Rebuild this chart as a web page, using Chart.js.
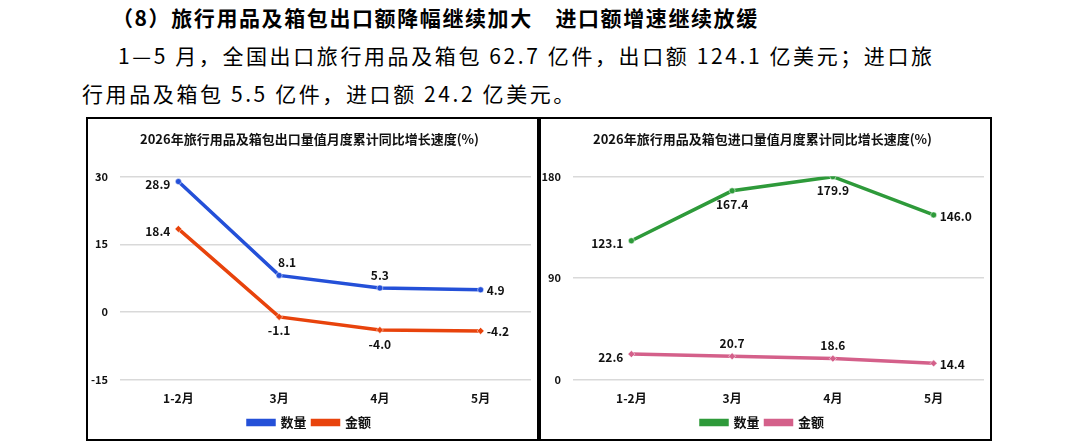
<!DOCTYPE html>
<html><head><meta charset="utf-8">
<script src="https://cdn.jsdelivr.net/npm/chart.js@4.4.0/dist/chart.umd.min.js"></script>
<style>
body{margin:0;width:1085px;height:445px;background:#fff;position:relative;overflow:hidden;font-family:"Noto Sans CJK SC",sans-serif;color:#000}
.t{position:absolute;white-space:nowrap;font-size:21px;letter-spacing:2.6px}
.box{position:absolute;top:117px;height:324px;border:2px solid #000;box-sizing:border-box}
.box canvas{position:absolute;left:0;top:0}
</style></head><body>
<div class="t" style="left:112px;top:2px;font-weight:bold;letter-spacing:1.6px">（8）旅行用品及箱包出口额降幅继续加大　进口额增速继续放缓</div>
<div class="t" style="left:118px;top:40px">1—5 月，全国出口旅行用品及箱包 62.7 亿件，出口额 124.1 亿美元；进口旅</div>
<div class="t" style="left:82px;top:78px">行用品及箱包 5.5 亿件，进口额 24.2 亿美元。</div>
<div class="box" style="left:86px;width:453px"><canvas id="c1" width="449" height="320"></canvas></div>
<div class="box" style="left:539px;width:453px"><canvas id="c2" width="449" height="320"></canvas></div>
<script>
const months = ['1-2月','3月','4月','5月'];
const exportQty = [28.9, 8.1, 5.3, 4.9];
const exportAmt = [18.4, -1.1, -4.0, -4.2];
const importQty = [123.1, 167.4, 179.9, 146.0];
const importAmt = [22.6, 20.7, 18.6, 14.4];

const FONT = '"Noto Sans CJK SC", sans-serif';

const labelPlugin = {
  id: 'vals',
  afterDatasetsDraw(chart){
    const ctx = chart.ctx;
    ctx.save();
    ctx.font = 'bold 12px ' + FONT;
    ctx.fillStyle = '#111';
    chart.data.datasets.forEach((ds, di) => {
      chart.getDatasetMeta(di).data.forEach((pt, i) => {
        const pos = ds.labelPos[i];
        let x = pt.x, y = pt.y;
        ctx.textAlign = 'center'; ctx.textBaseline = 'middle';
        if(pos === 'left'){ ctx.textAlign = 'right'; x -= 8; y += 3; }
        else if(pos === 'right'){ ctx.textAlign = 'left'; x += 6; y += 1; }
        else if(pos === 'top'){ y -= 13; }
        else if(pos === 'topright'){ x += 8; y -= 13; }
        else if(pos === 'bottom'){ y += 14; }
        ctx.fillText(ds.data[i].toFixed(1), x, y);
      });
    });
    ctx.restore();
  }
};

function makeChart(id, title, sets, min, max, step, yWidth){
  return new Chart(document.getElementById(id), {
    type: 'line',
    data: { labels: months, datasets: sets.map(s => ({
      label: s.label, data: s.data, labelPos: s.pos,
      borderColor: s.color, backgroundColor: s.color, borderWidth: 3.5,
      pointStyle: s.marker, pointRadius: s.marker === 'circle' ? 3 : 3.5,
      pointBorderColor: '#fff', pointBorderWidth: 0.5, tension: 0
    }))},
    options: {
      responsive: false, animation: false,
      layout: { padding: { left: 0, right: 6, top: 0, bottom: 0 } },
      plugins: {
        title: { display: true, text: title, color: '#111', font: { family: FONT, size: 13, weight: 'bold' }, padding: { top: 12, bottom: 30 } },
        legend: { position: 'bottom', labels: { color: '#111', boxWidth: 26, boxHeight: 4, padding: 6, font: { family: FONT, size: 13, weight: 'bold' } } },
        tooltip: { enabled: false }
      },
      scales: {
        x: { offset: true, grid: { display: false }, border: { display: false },
             ticks: { color: '#111', padding: 4, font: { family: FONT, size: 12, weight: 'bold' } } },
        y: { min: min, max: max, ticks: { stepSize: step, color: '#111', padding: 12, font: { family: FONT, size: 11, weight: 'bold' } },
             grid: { color: '#d9d9d9', lineWidth: 1.5 }, border: { display: false },
             afterFit(s){ s.width = yWidth; } }
      }
    },
    plugins: [labelPlugin]
  });
}

makeChart('c1', '2026年旅行用品及箱包出口量值月度累计同比增长速度(%)', [
  { label: '数量', data: exportQty, color: '#2450d8', marker: 'circle', pos: ['left','topright','top','right'] },
  { label: '金额', data: exportAmt, color: '#e8430c', marker: 'rectRot', pos: ['left','bottom','bottom','right'] }
], -15, 30, 15, 40);

makeChart('c2', '2026年旅行用品及箱包进口量值月度累计同比增长速度(%)', [
  { label: '数量', data: importQty, color: '#2e9a3a', marker: 'circle', pos: ['left','bottom','bottom','right'] },
  { label: '金额', data: importAmt, color: '#d4608a', marker: 'rectRot', pos: ['left','top','top','right'] }
], 0, 180, 90, 40);
</script>
</body></html>
